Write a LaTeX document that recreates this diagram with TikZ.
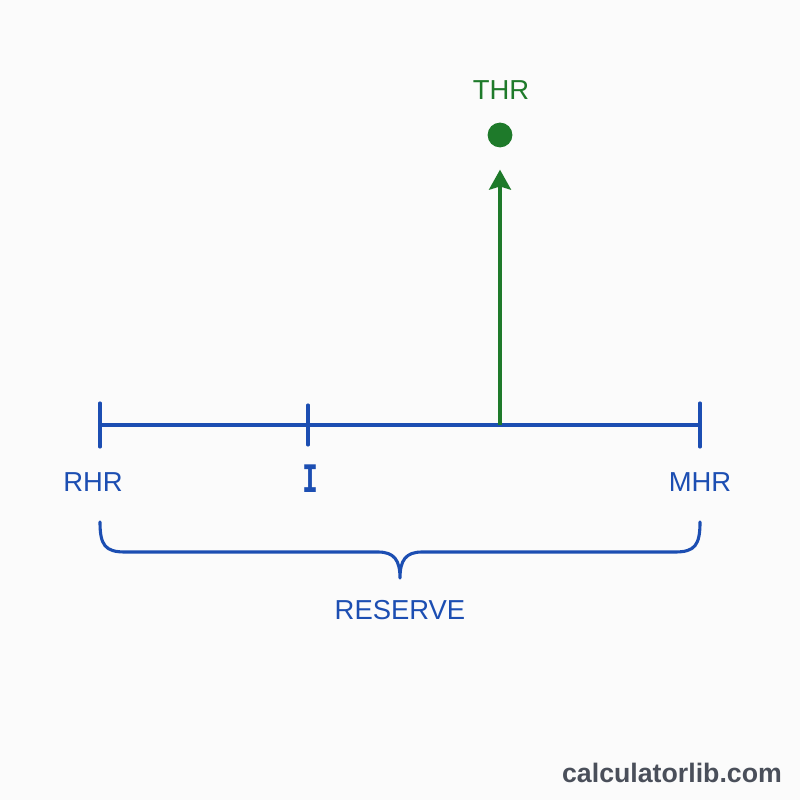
\documentclass[tikz,border=0pt]{standalone}
\usepackage{fontspec}
\setmainfont{Liberation Sans}
\newfontfamily\slabfont{DejaVu Sans Mono}
\usetikzlibrary{positioning, arrows.meta, calc}
\definecolor{axisblue}{RGB}{28,78,178}
\definecolor{thrgreen}{RGB}{30,122,42}
\definecolor{markgray}{RGB}{74,79,90}
\definecolor{paper}{RGB}{251,251,251}

\begin{document}
\begin{tikzpicture}[
    x=0.025cm, y=-0.025cm,
    axis/.style={draw=axisblue, line width=2.2pt, line cap=round},
    bound/.style={draw=axisblue, line width=2.2pt, line cap=round},
    lbl/.style={text=axisblue, font=\fontsize{19.5}{22}\selectfont, inner sep=0pt},
    thrlbl/.style={text=thrgreen, font=\fontsize{19.5}{22}\selectfont, inner sep=0pt},
    dotnode/.style={circle, fill=thrgreen, minimum size=0.62cm, inner sep=0pt},
    arr/.style={-{Stealth[width=0.55cm, length=0.5cm, inset=0.08cm]}, draw=thrgreen, line width=2.2pt},
    brace/.style={draw=axisblue, line width=2.2pt, line cap=round, line join=round},
    site/.style={text=markgray, font=\fontsize{19}{22}\selectfont\bfseries, inner sep=0pt}
]
    \fill[paper] (0,0) rectangle (800,800);
    \useasboundingbox (0,0) rectangle (800,800);

    % axis with ticks
    \coordinate (left) at (100,425);
    \coordinate (midtick) at (308,425);
    \coordinate (base) at (500,425);
    \coordinate (right) at (700,425);
    \draw[axis] (left) -- (right);
    \draw[bound] ($(left)+(0,-22)$) -- ($(left)+(0,22)$);
    \draw[bound] ($(midtick)+(0,-20)$) -- ($(midtick)+(0,20)$);
    \draw[bound] ($(right)+(0,-22)$) -- ($(right)+(0,22)$);

    \node[lbl] (rhr) at (93,482) {RHR};
    \node[lbl, font=\slabfont\bfseries\fontsize{27}{29}\selectfont] (imark) at (310,479) {\scalebox{0.7}[1]{I}};
    \node[lbl] (mhr) at (700,482) {MHR};

    % target point
    \node[dotnode] (dot) at (500,135) {};
    \node[thrlbl] (thr) at (501,90) {THR};
    \draw[arr, shorten >=0.55cm] (base) -- (dot.south);

    % reserve brace
    \coordinate (bl) at (100,522);
    \coordinate (br) at (700,522);
    \draw[brace] (bl) .. controls (100,545) and (105,552) .. (125,552) -- (378,552)
        .. controls (394,552) and (400,560) .. (400,578)
        .. controls (400,560) and (406,552) .. (422,552) -- (675,552)
        .. controls (695,552) and (700,545) .. (br);
    \node[lbl] (reserve) at (400,610) {RESERVE};

    \node[site] (credit) at (672,773) {calculatorlib.com};
\end{tikzpicture}
\end{document}
